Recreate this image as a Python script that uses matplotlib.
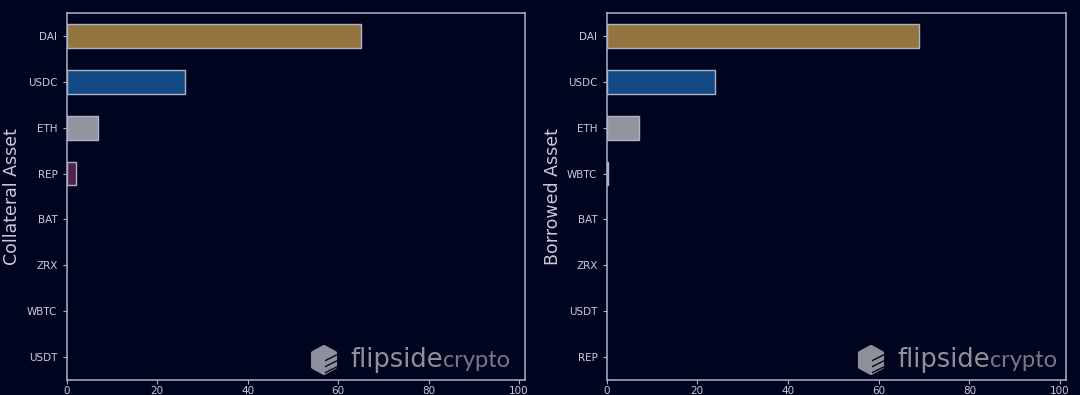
"""Collateral and borrowed asset shares, flipsidecrypto style"""

import matplotlib
matplotlib.use("Agg")
import matplotlib.pyplot as plt
from matplotlib.patches import Polygon

# Values
collateral_assets = ["DAI", "USDC", "ETH", "REP", "BAT", "ZRX", "WBTC", "USDT"]
collateral_values = [65, 26.2, 7, 2.2, 0, 0, 0, 0]
collateral_colors = ["#93743f", "#134a84", "#92949f", "#4e2344", "#000000", "#000000", "#000000", "#000000"]

borrowed_assets = ["DAI", "USDC", "ETH", "WBTC", "BAT", "ZRX", "USDT", "REP"]
borrowed_values = [69, 24, 7.2, 0.4, 0, 0, 0, 0]
borrowed_colors = ["#93743f", "#134a84", "#92949f", "#b9bccb", "#000000", "#000000", "#000000", "#000000"]

x_ticks = [0, 20, 40, 60, 80, 100]

BG = "#00041e"
LINE = "#aeb2c8"
TEXT = "#c9cbd6"
LOGO = "#8d8f99"

W, H = 1080, 395
fig = plt.figure(figsize=(W / 100, H / 100), dpi=100, facecolor=BG)


def add_logo(cx, cy):
    """Draws the hexagon mark and the wordmark, centred on pixel position cx, cy."""
    def px(points):
        return [((cx + x) / W, 1 - (cy + y) / H) for x, y in points]

    hexagon = [(-11, -7), (0, -13), (11, -7), (11, 7), (0, 13), (-11, 7)]
    fig.add_artist(Polygon(px(hexagon), closed=True, transform=fig.transFigure,
                           facecolor=LOGO, edgecolor=LOGO, lw=3, joinstyle="round"))
    for dy in (-1, 5, 11):
        stripe = [(1, dy + 1), (15, dy - 6), (15, dy - 4.5), (1, dy + 2.5)]
        fig.add_artist(Polygon(px(stripe), closed=True, transform=fig.transFigure,
                               facecolor=BG, edgecolor="none"))
    word = fig.text((cx + 26) / W, 1 - (cy + 7) / H, "flipside", color=LOGO,
                    fontsize=18.5, family="DejaVu Sans")
    box = word.get_window_extent(fig.canvas.get_renderer())
    fig.text(box.x1 / W, 1 - (cy + 7) / H, "crypto", color="#777985",
             fontsize=17, family="Lato", fontweight="normal")


def plot_assets(rect, assets, values, colors, ylabel, label_x):
    """Draws one horizontal bar panel, rect given in pixels as left, top, right, bottom."""
    left, top, right, bottom = rect
    ax = fig.add_axes([left / W, 1 - bottom / H, (right - left) / W, (bottom - top) / H])
    ax.set_facecolor(BG)
    # zero bars get no outline, they would only thicken the axis line
    edge_widths = [1 if value > 0 else 0 for value in values]
    ax.barh(assets, values, height=0.52, color=colors, edgecolor=LINE, linewidth=edge_widths)
    ax.set_ylim(7.5, -0.5)
    ax.set_xlim(0, 101.3)
    ax.set_xticks(x_ticks)
    ax.tick_params(colors=TEXT, labelsize=7.5, length=3, width=0.8, color=LINE)
    ax.tick_params(axis="x", pad=1.5)
    for spine in ax.spines.values():
        spine.set_color(LINE)
        spine.set_linewidth(1.1)
    fig.text(label_x / W, 1 - 197 / H, ylabel, color=TEXT, fontsize=12.5,
             rotation=90, ha="center", va="center")
    return ax


plot_assets((66.5, 13, 525, 380), collateral_assets, collateral_values, collateral_colors,
            "Collateral Asset", 12)
plot_assets((606.5, 13, 1066, 380), borrowed_assets, borrowed_values, borrowed_colors,
            "Borrowed Asset", 553)

add_logo(324, 360)
add_logo(871, 360)

plt.savefig("out.png", dpi=100, facecolor=BG)
